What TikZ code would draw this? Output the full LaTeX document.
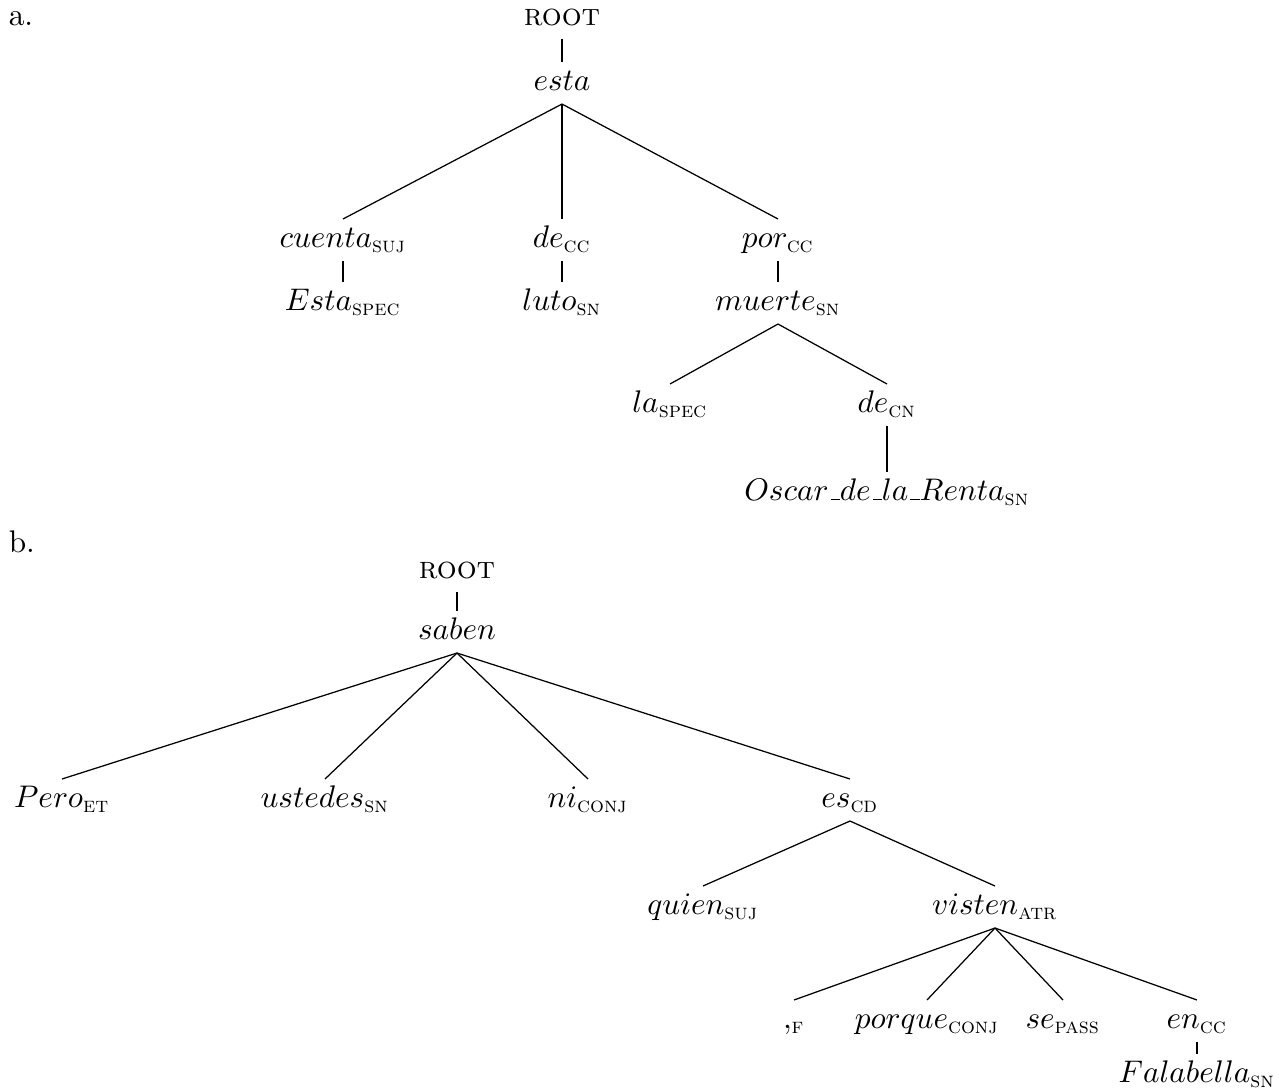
\documentclass[tikz,border=0pt]{standalone}
\usepackage{amsmath}
\usepackage{tikz}

\newcommand{\lowbar}{\kern.06em\vbox{\hrule width.3em}}

\begin{document}
\begin{tikzpicture}[x=0.32pt,y=-0.32pt,
    word/.style={inner sep=2pt,text height=1.6ex,text depth=0.5ex}]
    \useasboundingbox (0,0) rectangle (1279,1089);

    % a.
    \node[word,anchor=west] (labA) at (2,18) {a.};
    \node[word] (rootA) at (562,18) {\textsc{root}};
    \node[word] (esta) at (562,83) {$esta$};
    \node[word] (cuenta) at (343,240) {$cuenta_{\textsc{suj}}$};
    \node[word] (deCC) at (562,240) {$de_{\textsc{cc}}$};
    \node[word] (por) at (778,240) {$por_{\textsc{cc}}$};
    \node[word] (Esta) at (343,303) {$Esta_{\textsc{spec}}$};
    \node[word] (luto) at (562,303) {$luto_{\textsc{sn}}$};
    \node[word] (muerte) at (778,303) {$muerte_{\textsc{sn}}$};
    \node[word] (la) at (670,405) {$la_{\textsc{spec}}$};
    \node[word] (deCN) at (887,405) {$de_{\textsc{cn}}$};
    \node[word] (oscar) at (887,493) {$Oscar\lowbar de\lowbar la\lowbar Renta_{\textsc{sn}}$};

    \draw (rootA.south) -- (esta.north);
    \draw (esta.south) -- (cuenta.north);
    \draw (esta.south) -- (deCC.north);
    \draw (esta.south) -- (por.north);
    \draw (cuenta.south) -- (Esta.north);
    \draw (deCC.south) -- (luto.north);
    \draw (por.south) -- (muerte.north);
    \draw (muerte.south) -- (la.north);
    \draw (muerte.south) -- (deCN.north);
    \draw (deCN.south) -- (oscar.north);

    % b.
    \node[word,anchor=west] (labB) at (2,545) {b.};
    \node[word] (rootB) at (457,571) {\textsc{root}};
    \node[word] (saben) at (457,632) {$saben$};
    \node[word] (pero) at (62,800) {$Pero_{\textsc{et}}$};
    \node[word] (ustedes) at (325,800) {$ustedes_{\textsc{sn}}$};
    \node[word] (ni) at (588,800) {$ni_{\textsc{conj}}$};
    \node[word] (es) at (850,800) {$es_{\textsc{cd}}$};
    \node[word] (quien) at (703,907) {$quien_{\textsc{suj}}$};
    \node[word] (visten) at (995,907) {$visten_{\textsc{atr}}$};
    \node[word] (coma) at (794,1021) {$,_{\textsc{f}}$};
    \node[word] (porque) at (927,1021) {$porque_{\textsc{conj}}$};
    \node[word] (se) at (1063,1021) {$se_{\textsc{pass}}$};
    \node[word] (en) at (1197,1021) {$en_{\textsc{cc}}$};
    \node[word] (falabella) at (1197,1075) {$Falabella_{\textsc{sn}}$};

    \draw (rootB.south) -- (saben.north);
    \draw (saben.south) -- (pero.north);
    \draw (saben.south) -- (ustedes.north);
    \draw (saben.south) -- (ni.north);
    \draw (saben.south) -- (es.north);
    \draw (es.south) -- (quien.north);
    \draw (es.south) -- (visten.north);
    \draw (visten.south) -- (coma.north);
    \draw (visten.south) -- (porque.north);
    \draw (visten.south) -- (se.north);
    \draw (visten.south) -- (en.north);
    \draw (en.south) -- (falabella.north);
\end{tikzpicture}
\end{document}
